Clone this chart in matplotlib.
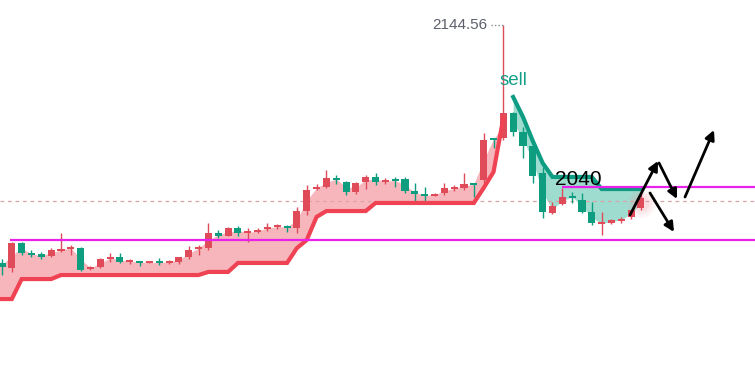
import matplotlib
matplotlib.use("Agg")
import matplotlib.pyplot as plt
import numpy as np

plt.rcParams['font.family'] = ['Liberation Sans', 'DejaVu Sans']

# ---- data ----
opens = [1991.3, 1988.0, 2004.2, 1997.7, 1997.1, 1995.8, 1999.0, 2000.3, 2000.9, 1987.4,
         1988.7, 1993.8, 1995.1, 1991.9, 1992.6, 1991.3, 1991.9, 1991.3, 1991.9, 1995.1,
         2000.3, 2000.9, 2010.6, 2008.7, 2013.9, 2010.6, 2011.3, 2013.2, 2014.5, 2015.1,
         2013.9, 2024.8, 2039.0, 2040.3, 2046.1, 2043.5, 2037.1, 2043.5, 2046.8, 2043.5,
         2044.8, 2045.5, 2037.7, 2035.8, 2034.5, 2036.4, 2039.0, 2039.7, 2042.9, 2044.8,
         2071.9, 2071.9, 2088.1, 2075.8, 2066.8, 2049.3, 2023.5, 2029.3, 2034.5, 2031.9,
         2024.2, 2016.4, 2017.1, 2018.4, 2021.0, 2026.8]
highs = [1993.8, 2004.8, 2004.8, 1999.7, 1998.4, 2000.9, 2010.6, 2002.9, 2001.6, 1989.3,
         1994.5, 1997.7, 1997.7, 1993.8, 1992.6, 1991.9, 1994.5, 1993.2, 1995.1, 2002.2,
         2002.9, 2017.1, 2012.6, 2014.5, 2015.1, 2013.9, 2013.9, 2017.1, 2016.4, 2015.8,
         2027.4, 2041.6, 2042.2, 2051.3, 2048.1, 2044.2, 2043.5, 2048.1, 2049.3, 2046.1,
         2046.8, 2046.8, 2042.9, 2040.3, 2036.4, 2042.9, 2041.6, 2049.3, 2042.9, 2075.2,
         2071.9, 2144.56, 2088.7, 2079.0, 2066.8, 2053.2, 2030.6, 2039.7, 2037.1, 2036.4,
         2030.6, 2024.2, 2019.7, 2021.0, 2025.5, 2036.4]
lows = [1983.5, 1985.5, 1996.4, 1995.1, 1993.8, 1995.1, 1998.4, 1996.4, 1986.1, 1986.7,
        1988.0, 1991.9, 1991.3, 1990.6, 1989.3, 1991.3, 1990.0, 1990.6, 1990.6, 1993.8,
        1996.4, 1999.7, 2007.4, 2008.7, 2008.7, 2004.8, 2010.6, 2011.9, 2013.2, 2011.3,
        2010.6, 2022.2, 2038.4, 2039.7, 2042.2, 2035.1, 2035.8, 2039.0, 2041.6, 2042.2,
        2040.3, 2036.4, 2030.6, 2031.3, 2034.5, 2035.1, 2037.7, 2038.4, 2033.9, 2042.9,
        2065.5, 2070.6, 2073.2, 2059.0, 2042.9, 2020.3, 2022.9, 2028.7, 2030.0, 2023.5,
        2015.8, 2009.3, 2016.4, 2017.1, 2019.7, 2025.5]
closes = [1988.7, 2004.2, 1997.7, 1996.4, 1995.1, 1999.7, 2000.3, 2001.6, 1986.7, 1988.7,
          1993.8, 1995.1, 1991.9, 1992.6, 1991.3, 1991.9, 1991.3, 1992.6, 1995.1, 1999.7,
          2001.6, 2010.6, 2008.7, 2013.9, 2010.6, 2011.3, 2012.6, 2014.5, 2015.1, 2013.9,
          2024.8, 2038.4, 2040.3, 2046.1, 2044.8, 2037.1, 2042.9, 2046.8, 2043.5, 2044.8,
          2044.2, 2037.7, 2035.8, 2034.5, 2035.8, 2039.7, 2039.7, 2042.2, 2041.6, 2070.6,
          2070.6, 2088.1, 2075.8, 2066.8, 2047.4, 2024.2, 2028.0, 2033.9, 2033.2, 2024.2,
          2017.1, 2017.1, 2019.0, 2019.7, 2025.5, 2033.2]

# supertrend: up-trend (red) for the first 52 bars, down-trend (green) after
st_up = [1968.0, 1968.0, 1980.9, 1980.9, 1980.9, 1980.9, 1983.5, 1983.5, 1983.5, 1983.5,
         1983.5, 1983.5, 1983.5, 1983.5, 1983.5, 1983.5, 1983.5, 1983.5, 1983.5, 1983.5,
         1983.5, 1985.5, 1985.5, 1985.5, 1991.3, 1991.3, 1991.3, 1991.3, 1991.3, 1991.3,
         2000.9, 2006.1, 2021.0, 2024.8, 2024.8, 2024.8, 2024.8, 2024.8, 2030.0, 2030.0,
         2030.0, 2030.0, 2030.0, 2030.0, 2030.0, 2030.0, 2030.0, 2030.0, 2030.0, 2039.7,
         2050.0, 2084.8]
st_down = [2098.4, 2085.5, 2070.0, 2055.8, 2046.8, 2046.8, 2046.8, 2046.8, 2046.8,
           2039.0, 2039.0, 2039.0, 2039.0, 2039.0]

high_label = "2144.56"
level_upper = 2040.0
level_lower = 2006.1
last_line = 2031.3

RED_C = '#e04b5a'
GREEN_C = '#0f9d80'
ST_RED = '#ef4354'
ST_GREEN = '#0e9c82'
FILL_RED = '#f7b6bc'
FILL_GREEN = '#9edccf'
MAGENTA = '#e822e8'

W, H = 755, 371
fig = plt.figure(figsize=(W / 100, H / 100), dpi=100)
ax = fig.add_axes([0, 0, 1, 1])
ax.axis('off')

X0, DX = 2.0, 9.83
P0, K = 2161.0, 0.6454
ax.set_xlim(-X0 / DX, (W - X0) / DX)
ax.set_ylim(P0 - K * H, P0)


def px(x, y):
    return ((x - X0) / DX, P0 - K * y)


o = np.array(opens); h = np.array(highs); l = np.array(lows); c = np.array(closes)
n = len(o)
idx = np.arange(n)
mid = (o + c) / 2

nu = len(st_up)
iu = idx[:nu]
idn = idx[nu:]

# fills
ax.fill_between(np.r_[-1, iu], np.r_[mid[0], mid[:nu]], np.r_[st_up[0], st_up],
                color=FILL_RED, lw=0, zorder=1)
ax.fill_between(idn, mid[nu:], st_down, color=FILL_GREEN, lw=0, zorder=1)

# dashed line
ax.axhline(last_line, color='#d9a3a8', lw=0.9, ls=(0, (3, 3)), zorder=1.5)

# candles
up = c >= o
colors = np.where(up, RED_C, GREEN_C)
ax.vlines(idx, l, h, colors=colors, lw=1.0, zorder=3)
bottoms = np.minimum(o, c)
heights = np.maximum(np.abs(c - o), 1.0)
ax.bar(idx, heights, bottom=bottoms, width=0.72, color=colors, lw=0, zorder=3)

# glow on last bar
for s, a in [(420, 0.10), (250, 0.12), (130, 0.14)]:
    ax.scatter([idx[-1]], [mid[-1]], s=s, color='#f4a0a8', alpha=a, lw=0, zorder=2.5)

# supertrend lines
ax.plot(np.r_[-1, iu], np.r_[st_up[0], st_up], color=ST_RED, lw=3.0,
        solid_joinstyle='miter', zorder=4)
ax.plot(idn, st_down, color=ST_GREEN, lw=3.0, solid_joinstyle='miter', zorder=4)

# horizontal levels
xl = ax.get_xlim()
ax.hlines(level_lower, px(10, 0)[0], xl[1], color=MAGENTA, lw=1.6, zorder=5)
ax.hlines(level_upper, px(562, 0)[0], xl[1], color=MAGENTA, lw=1.6, zorder=5)

# high label
hi_i = int(np.argmax(h))
ax.plot([px(491, 0)[0], hi_i], [h[hi_i], h[hi_i]], color='#8a8d96', lw=1.0,
        ls=(0, (1, 1.5)), zorder=5)
ax.text(px(487, 0)[0], h[hi_i], high_label, ha='right', va='center',
        fontsize=11, color='#5d606b', zorder=6)

# texts
tx, ty = px(513, 80)
ax.text(tx, ty, 'sell', ha='center', va='center', fontsize=13.5, color='#14a088', zorder=6)
tx, ty = px(555, 185)
ax.text(tx, ty, '2040', ha='left', va='baseline', fontsize=15, color='black', zorder=6)

# arrows
arrows = [((630, 215), (658, 161)), ((659, 163), (677, 199)),
          ((650, 193), (674, 232)), ((685, 197), (714, 130))]
for (x1, y1), (x2, y2) in arrows:
    ax.annotate('', xy=px(x2, y2), xytext=px(x1, y1),
                arrowprops=dict(arrowstyle='-|>', color='black', lw=2.0,
                                mutation_scale=14, shrinkA=0, shrinkB=0),
                zorder=7)

fig.savefig('out.png', dpi=100)
